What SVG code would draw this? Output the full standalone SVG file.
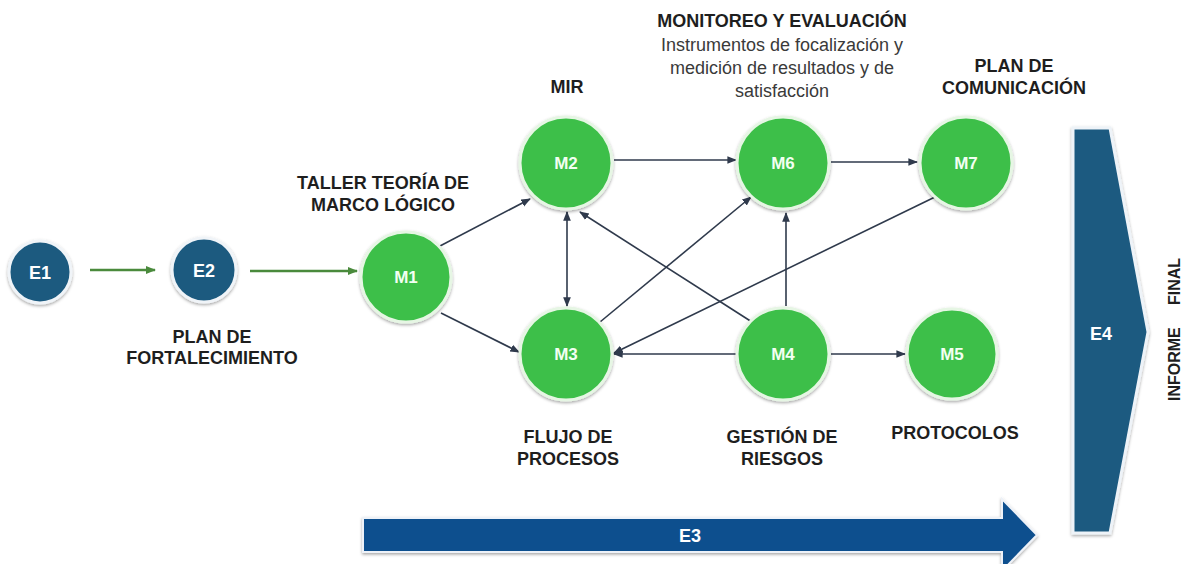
<svg xmlns="http://www.w3.org/2000/svg" width="1185" height="564" viewBox="0 0 1185 564">
<style>
.lbl{font-family:"Liberation Sans",Arial,sans-serif;font-weight:bold;font-size:18px;fill:#1e1e1e;text-anchor:middle}
.sub{font-family:"Liberation Sans",Arial,sans-serif;font-size:18px;fill:#3a3a3a;text-anchor:middle}
.nt{font-family:"Liberation Sans",Arial,sans-serif;font-weight:bold;font-size:17px;fill:#f2fff2;text-anchor:middle}
.et{font-family:"Liberation Sans",Arial,sans-serif;font-weight:bold;font-size:18px;fill:#ffffff;text-anchor:middle}
.g{fill:#3dbf49;stroke:#e6f6e4;stroke-width:3;filter:url(#sh)}
.b{fill:#1c5a7f;stroke:#f0f4f8;stroke-width:3;filter:url(#sh)}
.c{stroke:#2f3a4c;stroke-width:1.6;fill:none;marker-end:url(#ah)}
.gc{stroke:#4a8a3c;stroke-width:2.5;fill:none;marker-end:url(#gh)}
</style>
<defs>
<filter id="sh" x="-20%" y="-20%" width="140%" height="140%">
<feDropShadow dx="0" dy="1.5" stdDeviation="1.5" flood-color="#000" flood-opacity="0.35"/>
</filter>
<marker id="ah" viewBox="0 0 10 10" refX="9" refY="5" markerWidth="6" markerHeight="6" markerUnits="strokeWidth" orient="auto-start-reverse">
<path d="M0,1 L10,5 L0,9 z" fill="#2f3a4c"/>
</marker>
<marker id="gh" viewBox="0 0 10 10" refX="9" refY="5" markerWidth="4" markerHeight="4" markerUnits="strokeWidth" orient="auto">
<path d="M0,1 L10,5 L0,9 z" fill="#4a8a3c"/>
</marker>
</defs>
<rect width="1185" height="564" fill="#ffffff"/>

<g id="E3">
<polygon points="363,518 1002,518 1002,499 1037,535 1002,571 1002,552 363,552" fill="#0f4f8e" stroke="#eef2f8" stroke-width="2" filter="url(#sh)"/>
<text class="et" x="690" y="542">E3</text>
</g>
<g id="E4">
<polygon points="1073,128 1110,128 1148,332 1110,533 1073,533" fill="#1c5a80" stroke="#eef3f8" stroke-width="3" filter="url(#sh)"/>
<text class="et" x="1101" y="340">E4</text>
</g>
<g id="informe-final">
<text class="lbl" style="font-size:16px;text-anchor:start" transform="translate(1180,401) rotate(-90)">INFORME</text>
<text class="lbl" style="font-size:16px;text-anchor:start" transform="translate(1180,305) rotate(-90)">FINAL</text>
</g>

<g id="connectors">
<line class="gc" x1="90" y1="270" x2="155" y2="270"/>
<line class="gc" x1="250" y1="271" x2="357" y2="271"/>
<line class="c" x1="440" y1="246" x2="530" y2="199"/>
<line class="c" x1="441" y1="313" x2="519" y2="352"/>
<line class="c" x1="614" y1="160" x2="736" y2="160"/>
<line class="c" x1="831" y1="162" x2="917" y2="162"/>
<line class="c" x1="567" y1="212" x2="567" y2="306" marker-start="url(#ah)"/>
<line class="c" x1="600" y1="322" x2="751" y2="197"/>
<line class="c" x1="752" y1="322" x2="580" y2="212"/>
<line class="c" x1="786" y1="306" x2="786" y2="213"/>
<line class="c" x1="935" y1="197" x2="614" y2="353"/>
<line class="c" x1="736" y1="354" x2="614" y2="354"/>
<line class="c" x1="831" y1="354" x2="905" y2="354"/>
</g>

<g id="E1"><circle class="b" cx="40" cy="272" r="31"/><text class="et" x="40" y="279">E1</text></g>
<g id="E2"><circle class="b" cx="204" cy="270" r="32"/><text class="et" x="204" y="277">E2</text>
<text class="lbl" x="212" y="343">PLAN DE</text><text class="lbl" x="212" y="364">FORTALECIMIENTO</text></g>
<g id="M1"><circle class="g" cx="406" cy="277" r="45"/><text class="nt" x="406" y="283">M1</text>
<text class="lbl" x="383" y="189">TALLER TEORÍA DE</text><text class="lbl" x="383" y="211">MARCO LÓGICO</text></g>
<g id="M2"><circle class="g" cx="566" cy="163" r="46"/><text class="nt" x="566" y="169">M2</text>
<text class="lbl" x="567" y="93">MIR</text></g>
<g id="M3"><circle class="g" cx="566" cy="354" r="46"/><text class="nt" x="566" y="360">M3</text>
<text class="lbl" x="568" y="443">FLUJO DE</text><text class="lbl" x="568" y="465">PROCESOS</text></g>
<g id="M4"><circle class="g" cx="783" cy="354" r="46"/><text class="nt" x="783" y="360">M4</text>
<text class="lbl" x="782" y="443">GESTIÓN DE</text><text class="lbl" x="782" y="465">RIESGOS</text></g>
<g id="M5"><circle class="g" cx="952" cy="354" r="45"/><text class="nt" x="952" y="360">M5</text>
<text class="lbl" x="955" y="439">PROTOCOLOS</text></g>
<g id="M6"><circle class="g" cx="783" cy="163" r="46"/><text class="nt" x="783" y="169">M6</text>
<text class="lbl" x="782" y="27">MONITOREO Y EVALUACIÓN</text>
<text class="sub" x="782" y="51">Instrumentos de focalización y</text>
<text class="sub" x="782" y="74">medición de resultados y de</text>
<text class="sub" x="782" y="97">satisfacción</text></g>
<g id="M7"><circle class="g" cx="966" cy="163" r="46"/><text class="nt" x="966" y="169">M7</text>
<text class="lbl" x="1014" y="72">PLAN DE</text><text class="lbl" x="1014" y="94">COMUNICACIÓN</text></g>
</svg>
